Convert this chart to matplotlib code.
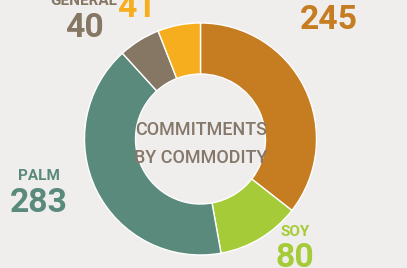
import matplotlib
matplotlib.use("Agg")
import matplotlib.pyplot as plt

# slices clockwise from 12 o'clock
commodities = ["", "SOY", "PALM", "GENERAL", ""]
commitments = [245, 80, 283, 40, 41]
colors = ["#C67C20", "#A5CB38", "#5A8A7B", "#857763", "#F6AE1E"]

BG = "#EFEEED"
H = 268  # figure height in px, labels placed in px with y measured from top

# label anchor positions (px, from top-left) for each slice: name baseline, number baseline
label_pos = [
    (329, None, 29),
    (295, 236, 267),
    (39, 180, 212),
    (84, 5, 37),
    (136, None, 17),
]

plt.rcParams["font.family"] = ["Roboto", "DejaVu Sans"]
fig = plt.figure(figsize=(4.07, 2.68), dpi=100, facecolor=BG)
ax = fig.add_axes([0, 0, 1, 1])
ax.set_facecolor(BG)

ax.pie(commitments, colors=colors, startangle=90, counterclock=False,
       center=(200.5, H - 139), radius=116,
       wedgeprops=dict(width=51, edgecolor="white", linewidth=1.0))
ax.set_xlim(0, 407)
ax.set_ylim(0, H)
ax.set_aspect("equal")
ax.axis("off")

for name, val, col, (x, yname, yval) in zip(commodities, commitments, colors, label_pos):
    ax.text(x, H - yval, str(val), ha="center", va="baseline", fontsize=24.3,
            fontweight="bold", color=col)
    if name and yname is not None:
        ax.text(x, H - yname, name, ha="center", va="baseline", fontsize=11,
                fontweight="bold", color=col)

ax.text(201, H - 135, "COMMITMENTS", ha="center", va="baseline", fontsize=13,
        fontweight="medium", color="#85786A")
ax.text(201, H - 163, "BY COMMODITY", ha="center", va="baseline", fontsize=13,
        fontweight="medium", color="#85786A")

fig.savefig("out.png", dpi=100, facecolor=BG)
